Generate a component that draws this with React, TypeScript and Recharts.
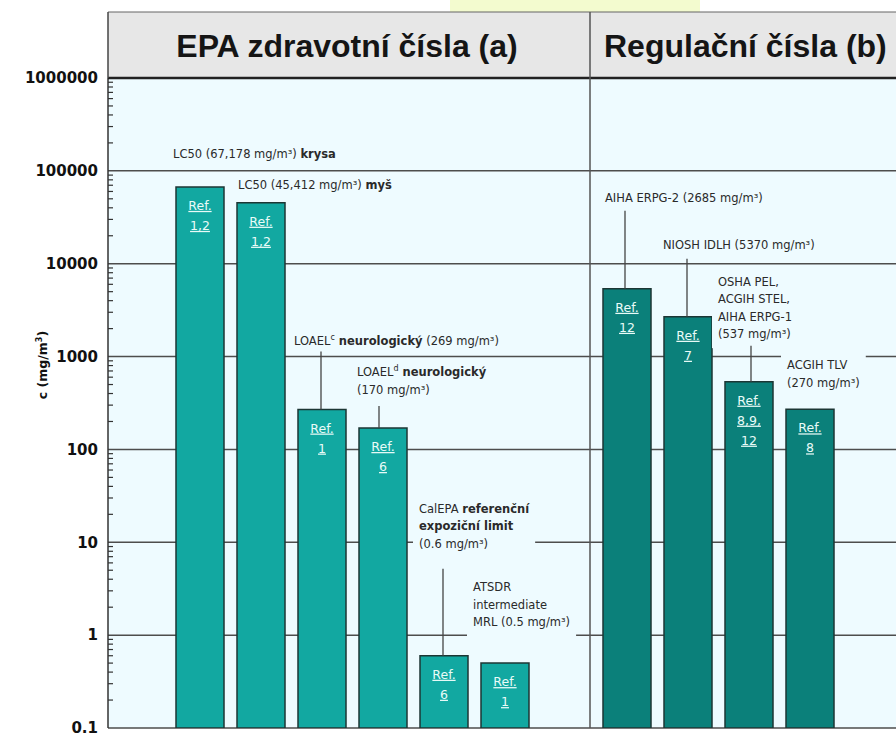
import React from "react";
import {
  BarChart,
  Bar,
  XAxis,
  YAxis,
  CartesianGrid,
  Cell,
  LabelList,
  ReferenceLine,
} from "recharts";

// values (mg/m3)
const categories = [
  "LC50 krysa",
  "LC50 myš",
  "LOAEL c",
  "LOAEL d",
  "CalEPA REL",
  "ATSDR MRL",
  "AIHA ERPG-2",
  "NIOSH IDLH",
  "OSHA PEL / ACGIH STEL / AIHA ERPG-1",
  "ACGIH TLV",
];
const values = [67178, 45412, 269, 170, 0.6, 0.5, 5370, 2685, 537, 270];
const groups = ["a", "a", "a", "a", "a", "a", "b", "b", "b", "b"];
const refLabels = [
  ["Ref.", "1,2"],
  ["Ref.", "1,2"],
  ["Ref.", "1"],
  ["Ref.", "6"],
  ["Ref.", "6"],
  ["Ref.", "1"],
  ["Ref.", "12"],
  ["Ref.", "7"],
  ["Ref.", "8,9,", "12"],
  ["Ref.", "8"],
];
const decadeTicks = [0.1, 1, 10, 100, 1000, 10000, 100000, 1000000];
const groupTitles = ["EPA zdravotní čísla (a)", "Regulační čísla (b)"];

// small ticks between the decades (2..9 of each)
const minorTicks = decadeTicks
  .slice(0, -1)
  .flatMap((d) => [2, 3, 4, 5, 6, 7, 8, 9].map((m) => +(m * d).toPrecision(3)));

// n = normal, b = bold, s = superscript
type Seg = [string, "n" | "b" | "s"];
const notes: Seg[][][] = [
  [[["LC50 (67,178 mg/m³) ", "n"], ["krysa", "b"]]],
  [[["LC50 (45,412 mg/m³)  ", "n"], ["myš", "b"]]],
  [[["LOAEL", "n"], ["c", "s"], [" neurologický", "b"], [" (269 mg/m³)", "n"]]],
  [[["LOAEL", "n"], ["d", "s"], [" neurologický", "b"]], [["(170 mg/m³)", "n"]]],
  [[["CalEPA ", "n"], ["referenční", "b"]], [["expoziční limit", "b"]], [["(0.6 mg/m³)", "n"]]],
  [[["ATSDR", "n"]], [["intermediate", "n"]], [["MRL (0.5 mg/m³)", "n"]]],
  [[["AIHA ERPG-2  (2685 mg/m³)", "n"]]],
  [[["NIOSH IDLH  (5370 mg/m³)", "n"]]],
  [[["OSHA PEL,", "n"]], [["ACGIH STEL,", "n"]], [["AIHA ERPG-1", "n"]], [["(537 mg/m³)", "n"]]],
  [[["ACGIH TLV", "n"]], [["(270 mg/m³)", "n"]]],
];

// layout: text offset from bar's top-left, leader line (x offset, length up)
const noteLayout = [
  { dx: -3, dy: -29, lead: 0, lx: 0 },
  { dx: 1, dy: -14, lead: 0, lx: 0 },
  { dx: -4, dy: -65, lead: 58, lx: 23 },
  { dx: -2, dy: -52, lead: 22, lx: 20 },
  { dx: -1, dy: -143, lead: 87, lx: 23 },
  { dx: -8, dy: -72, lead: 0, lx: 0 },
  { dx: 2, dy: -87, lead: 78, lx: 22 },
  { dx: -1, dy: -68, lead: 58, lx: 23 },
  { dx: -7, dy: -96, lead: 36, lx: 26 },
  { dx: 1, dy: -40, lead: 0, lx: 0 },
];

const SLOTS = 13;
const slotOf = [1, 2, 3, 4, 5, 6, 8, 9, 10, 11];
const rows = Array.from({ length: SLOTS }, (_, s) => {
  const i = slotOf.indexOf(s);
  if (i < 0) return { slot: s, name: "", value: null, key: null, group: "" };
  return { slot: s, name: categories[i], value: values[i], key: i, group: groups[i] };
});

const PLOT_BG = "#eefbff";
const FONT = "DejaVu Sans";
const NOTE_SIZE = 11.5;
const LINE_H = 17.5;
const AXIS_W = 108;

let ctx: CanvasRenderingContext2D | null = null;
function textWidth(t: string, bold: boolean, size: number) {
  if (!ctx) ctx = document.createElement("canvas").getContext("2d");
  if (!ctx) return t.length * size * 0.6;
  ctx.font = `${bold ? "bold " : ""}${size}px "${FONT}"`;
  return ctx.measureText(t).width;
}
function lineWidth(line: Seg[]) {
  return line.reduce(
    (w, [t, st]) => w + textWidth(t, st === "b", st === "s" ? 8 : NOTE_SIZE),
    0
  );
}

function renderNote(props: any) {
  const i = props.value;
  if (i === null || i === undefined) return null;
  const vb = props.viewBox ?? props;
  const x = Number(vb.x ?? props.x);
  const y = Number(vb.y ?? props.y);
  const lay = noteLayout[i];
  const lines = notes[i];
  const tx = x + lay.dx;
  const base = y + lay.dy;
  const w = Math.max(...lines.map(lineWidth));
  return (
    <g key={`note-${i}`}>
      <rect
        x={tx - 6}
        y={base - NOTE_SIZE - 4}
        width={w + 12}
        height={(lines.length - 1) * LINE_H + NOTE_SIZE + 14}
        fill={PLOT_BG}
      />
      {lay.lead > 0 && (
        <line x1={x + lay.lx} x2={x + lay.lx} y1={y} y2={y - lay.lead} stroke="#444" strokeWidth={1.3} />
      )}
      {lines.map((line, li) => {
        let shifted = false;
        return (
          <text
            key={li}
            x={tx}
            y={base + li * LINE_H}
            fontFamily={FONT}
            fontSize={NOTE_SIZE}
            fill="#2a2a2a"
          >
            {line.map(([t, st], si) => {
              if (st === "s") {
                shifted = true;
                return (
                  <tspan key={si} dy={-5} fontSize={8}>
                    {t}
                  </tspan>
                );
              }
              const dy = shifted ? 5 : undefined;
              shifted = false;
              return (
                <tspan key={si} dy={dy} fontWeight={st === "b" ? 700 : 400}>
                  {t}
                </tspan>
              );
            })}
          </text>
        );
      })}
    </g>
  );
}

function renderRef(props: any) {
  const i = props.value;
  if (i === null || i === undefined) return null;
  const vb = props.viewBox ?? props;
  const x = Number(vb.x ?? props.x);
  const y = Number(vb.y ?? props.y);
  const w = Number(vb.width ?? props.width);
  return (
    <g key={`ref-${i}`}>
      {refLabels[i].map((t, li) => (
        <text
          key={li}
          x={x + w / 2}
          y={y + 23 + li * 20}
          textAnchor="middle"
          fontFamily={FONT}
          fontSize={12.5}
          fill="#e9fbf8"
          textDecoration="underline"
        >
          {t}
        </text>
      ))}
    </g>
  );
}

const App: React.FC = () => {
  return (
    <div
      style={{
        position: "fixed",
        left: 0,
        top: 0,
        width: 896,
        height: 736,
        overflow: "hidden",
        background: "#ffffff",
      }}
    >
      <BarChart
        width={901}
        height={736}
        data={rows}
        margin={{ top: 78, right: 0, bottom: 8, left: 0 }}
      >
        <CartesianGrid
          vertical={false}
          horizontalValues={decadeTicks}
          stroke="#4d4d4d"
          strokeWidth={1.5}
          fill={PLOT_BG}
          fillOpacity={1}
        />
        <XAxis dataKey="slot" type="category" hide />
        <YAxis
          scale="log"
          type="number"
          domain={[0.1, 1000000]}
          allowDataOverflow
          ticks={decadeTicks}
          interval={0}
          width={AXIS_W}
          tickLine={false}
          tickMargin={4}
          axisLine={{ stroke: "#333", strokeWidth: 1.5 }}
          tick={{ fontSize: 15, fontWeight: 700, fill: "#111", fontFamily: FONT }}
          tickFormatter={(v: number) => String(v)}
        />
        {/* minor log ticks: a 5px dash at the left end of each line */}
        {minorTicks.map((v) => (
          <ReferenceLine
            key={`m-${v}`}
            y={v}
            stroke="#333"
            strokeWidth={1.2}
            strokeDasharray="5 2000"
          />
        ))}
        <Bar dataKey="value" barSize={48} isAnimationActive={false} stroke="#1c3634" strokeWidth={1.5}>
          {rows.map((r, k) => (
            <Cell key={k} fill={r.group === "b" ? "#0b807a" : "#12a8a1"} />
          ))}
          <LabelList dataKey="key" content={renderNote} />
          <LabelList dataKey="key" content={renderRef} />
        </Bar>
      </BarChart>
      <svg
        width={896}
        height={736}
        style={{ position: "absolute", left: 0, top: 0, pointerEvents: "none" }}
      >
        <rect x={450} y={0} width={250} height={12} fill="#f3fbcf" />
        <rect x={AXIS_W} y={12} width={800} height={66} fill="#e7e7e7" />
        <line x1={AXIS_W} x2={896} y1={12} y2={12} stroke="#666" strokeWidth={1.2} />
        <line x1={AXIS_W} x2={896} y1={78} y2={78} stroke="#222" strokeWidth={2.5} />
        <line x1={AXIS_W} x2={AXIS_W} y1={12} y2={78} stroke="#444" strokeWidth={1.5} />
        <line x1={590} x2={590} y1={12} y2={728} stroke="#555" strokeWidth={1.5} />
        <text x={347} y={57} textAnchor="middle" fontFamily="Liberation Sans" fontSize={32} fontWeight={700} fill="#151515">
          {groupTitles[0]}
        </text>
        <text x={604} y={57} fontFamily="Liberation Sans" fontSize={32} fontWeight={700} fill="#151515">
          {groupTitles[1]}
        </text>
        <text
          x={47}
          y={365}
          transform="rotate(-90 47 365)"
          textAnchor="middle"
          fontFamily={FONT}
          fontSize={12.5}
          fontWeight={700}
          fill="#111"
        >
          c (mg/m<tspan dy={-5} fontSize={8}>3</tspan>
          <tspan dy={5}>)</tspan>
        </text>
      </svg>
    </div>
  );
};

export default App;
